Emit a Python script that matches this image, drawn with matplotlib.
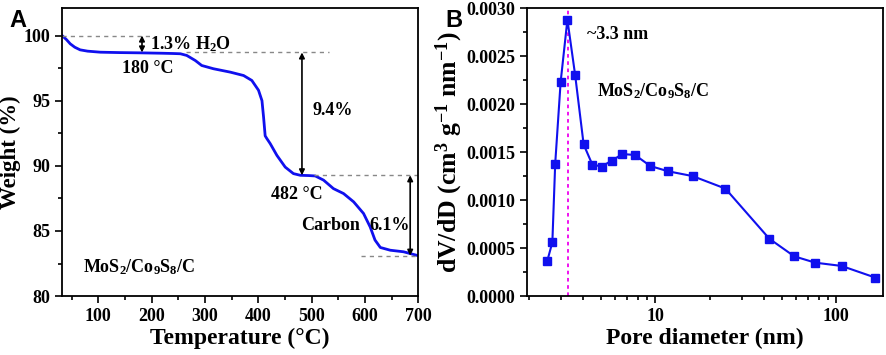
import matplotlib
matplotlib.use("Agg")
import matplotlib.pyplot as plt
from matplotlib.ticker import MultipleLocator, FixedLocator, NullFormatter
import numpy as np

plt.rcParams['font.family'] = ['Liberation Serif', 'DejaVu Serif']
plt.rcParams['mathtext.fontset'] = 'custom'
plt.rcParams['mathtext.rm'] = 'Liberation Serif:bold'
plt.rcParams['mathtext.bf'] = 'Liberation Serif:bold'
plt.rcParams['mathtext.default'] = 'bf'

# ---- Panel A: TGA data ----
tga_temp = [32, 40, 47.5, 56, 66, 80, 104, 140, 179, 220, 240, 254, 266, 282, 294,
            316, 347.5, 372.5, 388, 400.5, 407, 410, 413, 416, 422.5, 435, 450.6,
            466, 479, 495, 507, 522.5, 541, 560, 579, 597.5, 610, 619, 629, 647.5,
            672.5, 700]
tga_weight = [100.0, 99.7, 99.36, 99.1, 98.9, 98.8, 98.72, 98.69, 98.67, 98.64, 98.62,
              98.6, 98.47, 98.08, 97.7, 97.45, 97.19, 96.93, 96.55, 95.8, 95.0, 93.74,
              92.3, 92.1, 91.7, 90.8, 89.9, 89.4, 89.27, 89.25, 89.22, 88.9, 88.25,
              87.87, 87.23, 86.34, 85.3, 84.3, 83.73, 83.52, 83.4, 83.1]

# ---- Panel B: pore size distribution ----
pore_d = [2.53, 2.70, 2.80, 3.0, 3.27, 3.61, 4.02, 4.49, 5.05, 5.74, 6.59, 7.73,
          9.39, 11.8, 16.1, 24.4, 42.7, 58.6, 76.5, 107, 164]
dvdd = [0.000365, 0.00056, 0.00138, 0.00223, 0.00288, 0.00230, 0.00158, 0.00137,
        0.00135, 0.00141, 0.00148, 0.00147, 0.001355, 0.00130, 0.00125, 0.00112,
        0.000597, 0.000414, 0.000348, 0.000314, 0.000193]
peak_d = 3.3

blue = '#1010ee'

fig = plt.figure(figsize=(8.86, 3.55), dpi=100)
axA = fig.add_axes([0.070, 0.166, 0.402, 0.811])
axB = fig.add_axes([0.595, 0.166, 0.402, 0.811])

for ax in (axA, axB):
    for s in ax.spines.values():
        s.set_linewidth(1.3)
    ax.tick_params(which='both', direction='out', top=False, right=False, width=1.2,
                   labelsize=13)
    ax.tick_params(which='major', length=5)
    ax.tick_params(which='minor', length=3)

# Panel A
axA.plot(tga_temp, tga_weight, color=blue, lw=2)
axA.set_xlim(32, 700)
axA.set_ylim(80, 102.1)
axA.xaxis.set_minor_locator(MultipleLocator(50))
axA.yaxis.set_minor_locator(MultipleLocator(2.5))
axA.set_xticks([100, 200, 300, 400, 500, 600, 700])
axA.set_xticklabels(['100', '200', '300', '400', '500', '600', '700'], fontweight='bold')
axA.set_yticks([80, 85, 90, 95, 100])
axA.set_yticklabels(['80', '85', '90', '95', '100'], fontweight='bold')
axA.set_xlabel('Temperature (°C)', fontsize=17, fontweight='bold', labelpad=2)
axA.set_ylabel('Weight (%)', fontsize=16.5, fontweight='bold', labelpad=2)

dcol = '#888888'
axA.plot([32, 205], [100, 100], ls=(0, (3, 3)), color=dcol, lw=1)
axA.plot([265, 532], [98.7, 98.7], ls=(0, (3, 3)), color=dcol, lw=1)
axA.plot([505, 700], [89.27, 89.27], ls=(0, (3, 3)), color=dcol, lw=1)
axA.plot([592, 700], [83.1, 83.1], ls=(0, (3, 3)), color=dcol, lw=1)
arr = dict(arrowstyle='<|-|>', color='black', lw=1.2, mutation_scale=8, shrinkA=0, shrinkB=0)
axA.annotate('', xy=(182, 100), xytext=(182, 98.7), arrowprops=arr)
axA.annotate('', xy=(482, 98.7), xytext=(482, 89.27), arrowprops=arr)
axA.annotate('', xy=(685, 89.27), xytext=(685, 83.1), arrowprops=arr)

tk = dict(fontsize=13, fontweight='bold')
axA.text(197, 99.35, r'1.3% H$_2$O', va='center', ha='left', **tk)
axA.text(192, 97.5, '180 °C', va='center', ha='center', **tk)
axA.text(502, 94.25, '9.4%', va='center', ha='left', **tk)
axA.text(472, 87.8, '482 °C', va='center', ha='center', **tk)
axA.text(480, 85.4, 'Carbon', va='center', ha='left', **tk)
axA.text(609, 85.4, '6.1%', va='center', ha='left', **tk)
axA.text(72, 82.2, r'MoS$_2$/Co$_9$S$_8$/C', va='center', ha='left', **tk)

# Panel B
axB.plot(pore_d, dvdd, color=blue, lw=1.5, marker='s', ms=5.5)
axB.set_xscale('log')
axB.set_xlim(1.96, 182)
axB.set_ylim(0, 0.003)
axB.axvline(peak_d, color='#ee00ee', ls=(0, (2, 2)), lw=1.3, zorder=0)
axB.set_xticks([10, 100])
axB.set_xticklabels(['10', '100'], fontweight='bold')
axB.xaxis.set_minor_locator(FixedLocator([2, 3, 4, 5, 6, 7, 8, 9, 20, 30, 40, 50, 60, 70, 80, 90]))
axB.xaxis.set_minor_formatter(NullFormatter())
axB.set_yticks([0, 0.0005, 0.0010, 0.0015, 0.0020, 0.0025, 0.0030])
axB.set_yticklabels(['0.0000', '0.0005', '0.0010', '0.0015', '0.0020', '0.0025', '0.0030'],
                    fontweight='bold')
axB.yaxis.set_minor_locator(MultipleLocator(0.00025))
axB.set_xlabel('Pore diameter (nm)', fontsize=17, fontweight='bold', labelpad=2)
axB.set_ylabel(r'dV/dD (cm$^3$ g$^{-1}$ nm$^{-1}$)', fontsize=18.5, fontweight='bold', labelpad=1)
axB.text(4.2, 0.00273, '~3.3 nm', va='center', ha='left', **tk)
axB.text(4.77, 0.00214, r'MoS$_2$/Co$_9$S$_8$/C', va='center', ha='left', **tk)

fig.text(0.011, 0.975, 'A', fontsize=17, fontweight='bold', family='Liberation Sans', va='top')
fig.text(0.503, 0.975, 'B', fontsize=17, fontweight='bold', family='Liberation Sans', va='top')

fig.savefig('out.png', dpi=100)
